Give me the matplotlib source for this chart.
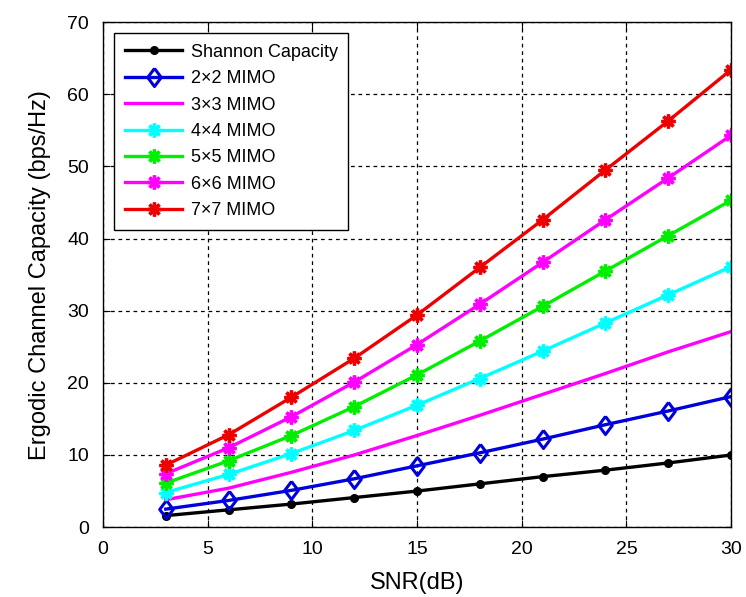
import matplotlib
matplotlib.use("Agg")
import matplotlib.pyplot as plt

plt.rcParams['font.family'] = ['Liberation Sans', 'DejaVu Sans']

snr = [3, 6, 9, 12, 15, 18, 21, 24, 27, 30]
shannon = [1.6, 2.4, 3.2, 4.1, 5.0, 6.0, 7.0, 7.9, 8.9, 10.0]
mimo2 = [2.5, 3.7, 5.1, 6.7, 8.5, 10.3, 12.2, 14.2, 16.1, 18.1]
mimo3 = [3.8, 5.4, 7.6, 10.0, 12.7, 15.5, 18.4, 21.3, 24.3, 27.1]
mimo4 = [4.8, 7.3, 10.2, 13.4, 16.9, 20.6, 24.4, 28.3, 32.2, 36.1]
mimo5 = [6.1, 9.2, 12.7, 16.7, 21.1, 25.8, 30.6, 35.5, 40.4, 45.3]
mimo6 = [7.4, 11.0, 15.3, 20.1, 25.3, 30.9, 36.7, 42.6, 48.4, 54.3]
mimo7 = [8.6, 12.8, 18.0, 23.4, 29.4, 36.0, 42.6, 49.5, 56.3, 63.4]
labels = ['Shannon Capacity', '2\u00d72 MIMO', '3\u00d73 MIMO', '4\u00d74 MIMO',
          '5\u00d75 MIMO', '6\u00d76 MIMO', '7\u00d77 MIMO']

fig = plt.figure(figsize=(7.46, 5.97), dpi=100)
ax = fig.add_axes([0.138, 0.117, 0.842, 0.846])

lw = 2.4
star = (8, 2, 0)
diamond = [(0, 1), (0.75, 0), (0, -1), (-0.75, 0), (0, 1)]
sk = dict(marker=star, ms=10, mew=2.4)
ax.plot(snr, shannon, color='black', lw=lw, marker='o', ms=5.5, label=labels[0])
ax.plot(snr, mimo2, color='#0000dd', lw=lw, marker=diamond, ms=13, mfc='none', mew=2.2, label=labels[1])
ax.plot(snr, mimo3, color='#ff00ff', lw=lw, label=labels[2])
ax.plot(snr, mimo4, color='#00ffff', lw=lw, label=labels[3], **sk)
ax.plot(snr, mimo5, color='#00ee00', lw=lw, label=labels[4], **sk)
ax.plot(snr, mimo6, color='#ff00ff', lw=lw, label=labels[5], **sk)
ax.plot(snr, mimo7, color='#ee0000', lw=lw, label=labels[6], **sk)

ax.set_xlim(0, 30)
ax.set_ylim(0, 70)
ax.set_xticks(range(0, 31, 5))
ax.set_yticks(range(0, 71, 10))
ax.grid(True, color='black', linestyle=(0, (3, 3)), linewidth=0.9)
ax.tick_params(direction='in', top=True, right=True, labelsize=14, length=5)
ax.tick_params(axis='x', pad=10)
ax.tick_params(axis='y', pad=10)
for s in ax.spines.values():
    s.set_linewidth(1.0)
ax.set_xlabel('SNR(dB)', fontsize=17, labelpad=10)
ax.set_ylabel('Ergodic Channel Capacity (bps/Hz)', fontsize=17, labelpad=12)

leg = ax.legend(loc='upper left', fontsize=13, frameon=True, fancybox=False,
                edgecolor='black', framealpha=1, handlelength=3.2,
                handletextpad=0.45, borderaxespad=0.6, labelspacing=0.52,
                borderpad=0.6)
leg.get_frame().set_linewidth(1.0)

fig.savefig('out.png', dpi=100)
